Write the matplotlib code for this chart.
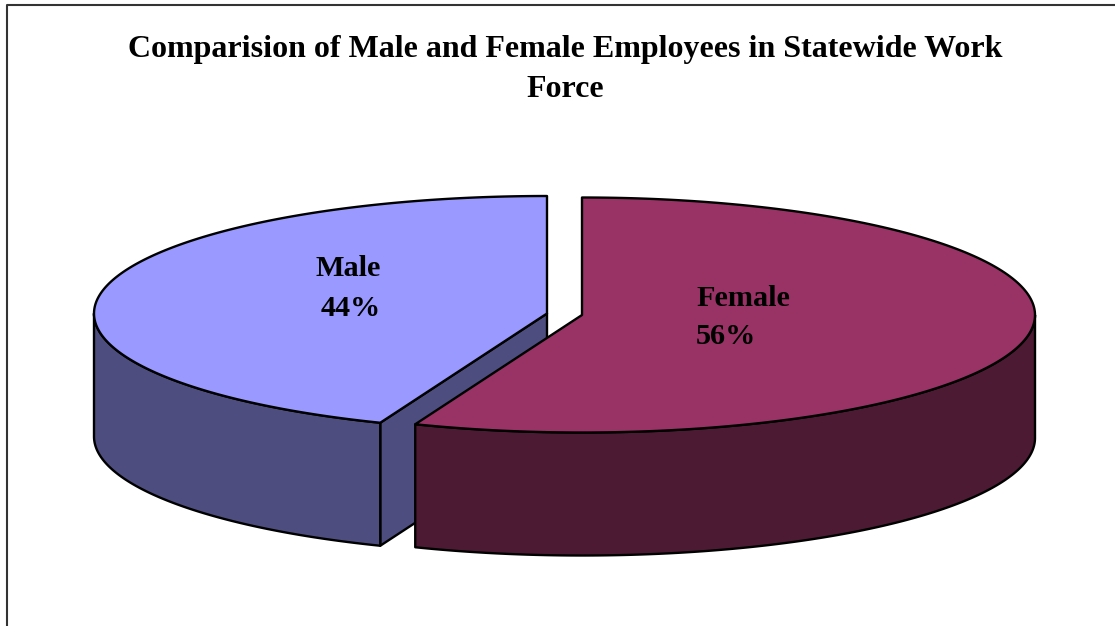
import matplotlib
matplotlib.use("Agg")
import matplotlib.pyplot as plt
import numpy as np

# data
categories = ["Male", "Female"]
shares = [44, 56]
title = "Comparision of Male and Female Employees in Statewide Work\nForce"

# female starts at 12 o'clock and goes clockwise, male fills the rest
female_end = shares[1] / sum(shares) * 360

TOP_COLORS = {"Male": "#9999FF", "Female": "#993366"}
SIDE_COLORS = {"Male": "#4D4D80", "Female": "#4D1A33"}

RX = 453
RY = 117.5
DEPTH = 123
MALE_C = (547, 313.5)
FEMALE_C = (582, 315)
LW = 1.7

plt.rcParams["font.family"] = ["Liberation Serif", "DejaVu Serif"]


def rim(center, a0, a1, dy=0):
    # points on the ellipse, angle in degrees clockwise from the top
    t = np.radians(np.linspace(a0, a1, 200))
    x = center[0] + RX * np.sin(t)
    y = center[1] - RY * np.cos(t) + dy
    return x, y


def shape(ax, x, y, color, z):
    ax.fill(x, y, facecolor=color, edgecolor="black", linewidth=LW,
            joinstyle="round", zorder=z)


def side(ax, center, a0, a1, color, z):
    x0, y0 = rim(center, a0, a1)
    x1, y1 = rim(center, a0, a1, DEPTH)
    shape(ax, np.r_[x0, x1[::-1]], np.r_[y0, y1[::-1]], color, z)


fig = plt.figure(figsize=(11.15, 6.26), dpi=100)
ax = fig.add_axes([0, 0, 1, 1])
ax.set_xlim(0, 1115)
ax.set_ylim(626, 0)
ax.axis("off")

# chart frame, right and bottom run off the picture
ax.plot([6.5, 6.5, 1115], [626, 5, 5], color="#333333", lw=1.5, zorder=1)

# male slice
x_e, y_e = rim(MALE_C, female_end, female_end)
cut_x = [x_e[0], MALE_C[0], MALE_C[0], x_e[0]]
cut_y = [y_e[0], MALE_C[1], MALE_C[1] + DEPTH, y_e[0] + DEPTH]
shape(ax, cut_x, cut_y, SIDE_COLORS["Male"], 2)
side(ax, MALE_C, female_end, 270, SIDE_COLORS["Male"], 3)
x_t, y_t = rim(MALE_C, female_end, 360)
shape(ax, np.r_[MALE_C[0], x_t], np.r_[MALE_C[1], y_t], TOP_COLORS["Male"], 4)

# female slice goes over the male one
side(ax, FEMALE_C, 90, female_end, SIDE_COLORS["Female"], 5)
x_t, y_t = rim(FEMALE_C, 0, female_end)
shape(ax, np.r_[FEMALE_C[0], x_t], np.r_[FEMALE_C[1], y_t], TOP_COLORS["Female"], 6)

# texts
ax.text(565, 69.5, title, ha="center", va="center", fontsize=23,
        fontweight="bold", linespacing=1.5, zorder=7)
ax.text(348, 268, categories[0], ha="center", va="center", fontsize=21.8,
        fontweight="bold", zorder=7)
ax.text(351, 308, f"{shares[0]}%", ha="center", va="center", fontsize=21.8,
        fontweight="bold", zorder=7)
ax.text(696.5, 298, categories[1], ha="left", va="center", fontsize=21.8,
        fontweight="bold", zorder=7)
ax.text(696, 337, f"{shares[1]}%", ha="left", va="center", fontsize=21.8,
        fontweight="bold", zorder=7)

fig.savefig("out.png", dpi=100)
